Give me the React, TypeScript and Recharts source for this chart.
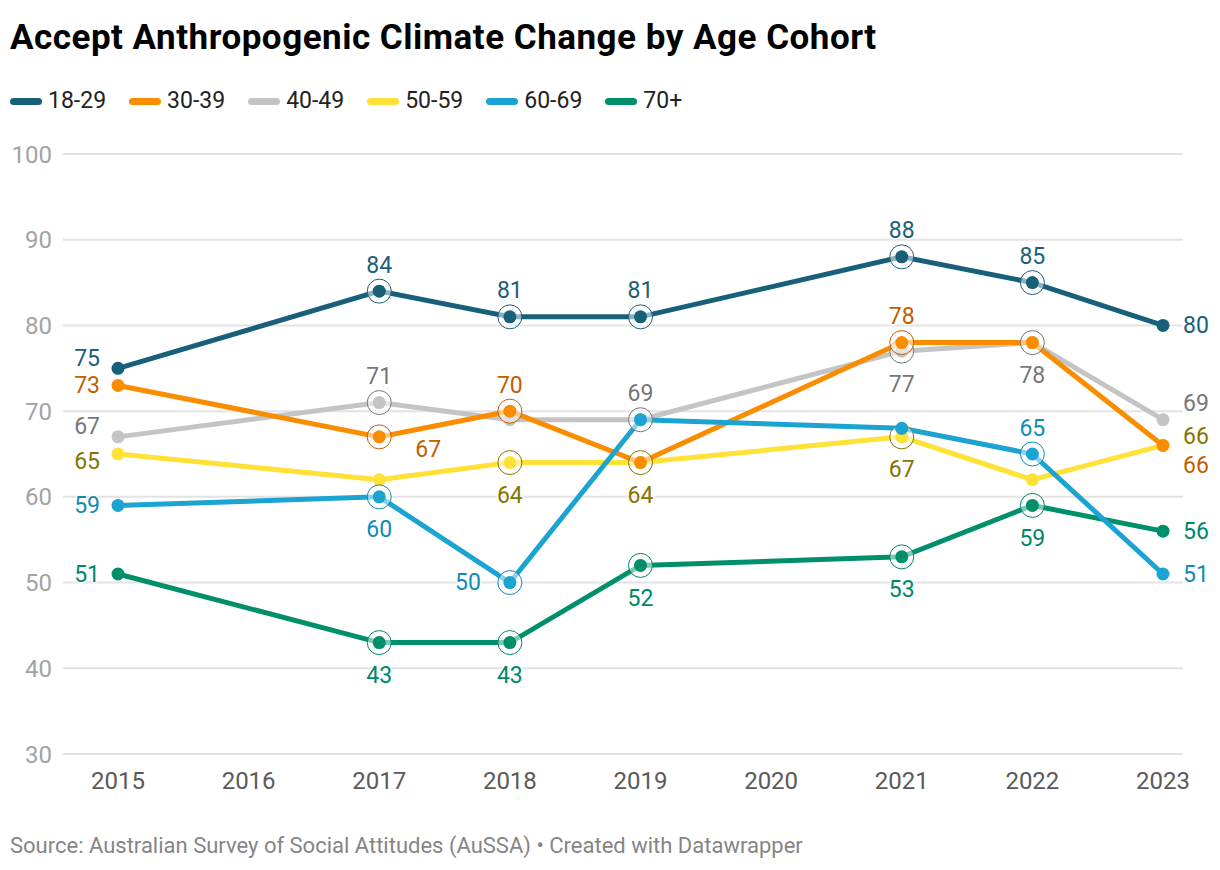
import React from "react";
import { LineChart, Line, XAxis, YAxis, CartesianGrid, LabelList } from "recharts";

const years = [2015, 2017, 2018, 2019, 2021, 2022, 2023];
const xTicks = [2015, 2016, 2017, 2018, 2019, 2020, 2021, 2022, 2023];
const yTicks = [30, 40, 50, 60, 70, 80, 90, 100];

const age1829 = [75, 84, 81, 81, 88, 85, 80];
const age3039 = [73, 67, 70, 64, 78, 78, 66];
const age4049 = [67, 71, 69, 69, 77, 78, 69];
const age5059 = [65, 62, 64, 64, 67, 62, 66];
const age6069 = [59, 60, 50, 69, 68, 65, 51];
const age70 = [51, 43, 43, 52, 53, 59, 56];

const title = "Accept Anthropogenic Climate Change by Age Cohort";
const source = "Source: Australian Survey of Social Attitudes (AuSSA) • Created with Datawrapper";

// label placement per point ("" = no label)
const place1829 = ["LU", "T", "T", "T", "T", "T", "R"];
const place3039 = ["L", "BR", "T", "", "T", "", "RD"];
const place4049 = ["LU", "T", "", "T", "B", "B", "RU"];
const place5059 = ["LD", "", "B", "B", "B", "", "RU2"];
const place6069 = ["L", "B", "L", "", "", "T", "R"];
const place70 = ["L", "B", "B", "B", "B", "B", "R"];

const series = [
  { key: "a1829", name: "18-29", values: age1829, color: "#18607a", labelColor: "#1a5f79", place: place1829 },
  { key: "a3039", name: "30-39", values: age3039, color: "#fa8c00", labelColor: "#c05e00", place: place3039 },
  { key: "a4049", name: "40-49", values: age4049, color: "#c4c4c4", labelColor: "#777777", place: place4049 },
  { key: "a5059", name: "50-59", values: age5059, color: "#ffe138", labelColor: "#857500", place: place5059 },
  { key: "a6069", name: "60-69", values: age6069, color: "#1ba3d1", labelColor: "#118bb5", place: place6069 },
  { key: "a70", name: "70+", values: age70, color: "#008f6b", labelColor: "#008766", place: place70 },
];

const drawOrder = ["a4049", "a5059", "a3039", "a70", "a6069", "a1829"];

const rows = years.map((y, i) => {
  const r: any = { year: y };
  series.forEach((s) => (r[s.key] = s.values[i]));
  return r;
});

const FONT = "Roboto, 'Noto Sans', sans-serif";
const last = years.length - 1;

function hasRing(s: any, i: number) {
  return s.place[i] !== "" && i !== 0 && i !== last;
}

function makeDot(s: any) {
  return (props: any) => {
    const { cx, cy, index } = props;
    if (cx == null || cy == null) return <g key={`d-${s.key}-${index}`} />;
    return (
      <g key={`d-${s.key}-${index}`}>
        {hasRing(s, index) && (
          <circle cx={cx} cy={cy} r={12} fill="#ffffff" fillOpacity={0.5} stroke={s.labelColor} strokeWidth={1} />
        )}
        <circle cx={cx} cy={cy} r={6.5} fill={s.color} />
      </g>
    );
  };
}

function makeLabel(s: any) {
  return (props: any) => {
    const { x, y, index, value } = props;
    const p = s.place[index];
    if (!p) return null;
    const ring = hasRing(s, index);
    let tx = x;
    let ty = y;
    let anchor: any = "middle";
    switch (p) {
      case "T": ty = y - 26; break;
      case "B": ty = y + 33; break;
      case "L": tx = x - (ring ? 29 : 18); anchor = "end"; break;
      case "LU": tx = x - 18; ty = y - 10; anchor = "end"; break;
      case "LD": tx = x - 18; ty = y + 7; anchor = "end"; break;
      case "R": tx = x + 20; anchor = "start"; break;
      case "RU": tx = x + 20; ty = y - 16; anchor = "start"; break;
      case "RU2": tx = x + 20; ty = y - 9; anchor = "start"; break;
      case "RD": tx = x + 20; ty = y + 20; anchor = "start"; break;
      case "BR": tx = x + 49; ty = y + 13; break;
    }
    return (
      <text
        key={`l-${s.key}-${index}`}
        x={tx}
        y={ty}
        textAnchor={anchor}
        dominantBaseline="central"
        fontFamily={FONT}
        fontSize={23}
        fill={s.labelColor}
        stroke="#ffffff"
        strokeWidth={3}
        strokeOpacity={0.8}
        paintOrder="stroke"
      >
        {value}
      </text>
    );
  };
}

export default function App() {
  const ordered = drawOrder.map((k) => series.find((s) => s.key === k)!);
  return (
    <div style={{ position: "absolute", left: 0, top: 0, width: 1220, height: 870, background: "#fff", fontFamily: FONT }}>
      <div style={{ position: "absolute", left: 10, top: 17, fontSize: 35, fontWeight: 700, color: "#000", whiteSpace: "nowrap", letterSpacing: 0.5 }}>
        {title}
      </div>
      <div style={{ position: "absolute", left: 10, top: 86, display: "flex", alignItems: "center", whiteSpace: "nowrap" }}>
        {series.map((s) => (
          <div key={s.key} style={{ display: "flex", alignItems: "center", marginRight: 23 }}>
            <div style={{ width: 32, height: 7, borderRadius: 4, background: s.color, marginRight: 6 }} />
            <span style={{ fontSize: 23, color: "#222", lineHeight: "30px" }}>{s.name}</span>
          </div>
        ))}
      </div>
      <div style={{ position: "absolute", left: 0, top: 0 }}>
        <LineChart width={1220} height={800} data={rows} margin={{ top: 154, right: 37, bottom: 16, left: 8 }}>
          <CartesianGrid vertical={false} stroke="#e3e3e3" strokeWidth={2} />
          <XAxis
            dataKey="year"
            type="number"
            domain={[2015, 2023]}
            ticks={xTicks}
            padding={{ left: 55, right: 20 }}
            axisLine={false}
            tickLine={false}
            tickSize={0}
            tickMargin={18}
            height={30}
            interval={0}
            tick={{ fill: "#5a5a5a", fontSize: 24, fontFamily: FONT }}
          />
          <YAxis
            type="number"
            domain={[30, 100]}
            ticks={yTicks}
            width={55}
            axisLine={false}
            tickLine={false}
            tickSize={0}
            tickMargin={11}
            interval={0}
            tick={{ fill: "#a3a3a3", fontSize: 24, fontFamily: FONT }}
          />
          {ordered.map((s) => (
            <Line
              key={s.key}
              dataKey={s.key}
              stroke={s.color}
              strokeWidth={5}
              type="linear"
              dot={makeDot(s)}
              activeDot={false}
              isAnimationActive={false}
            >
              <LabelList dataKey={s.key} content={makeLabel(s)} />
            </Line>
          ))}
        </LineChart>
      </div>
      <div style={{ position: "absolute", left: 10, top: 833, fontSize: 22, color: "#858585", whiteSpace: "nowrap" }}>
        {source}
      </div>
    </div>
  );
}
